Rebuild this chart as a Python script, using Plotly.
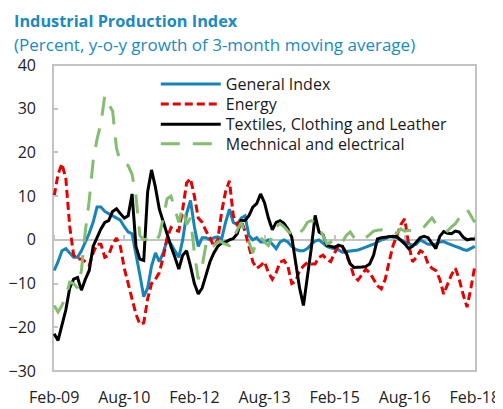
import plotly.graph_objects as go

# Monthly categories Feb-09 .. Feb-18
month_names = ["Jan", "Feb", "Mar", "Apr", "May", "Jun", "Jul", "Aug", "Sep", "Oct", "Nov", "Dec"]
months = []
for yr in range(2009, 2019):
    for mi, mn in enumerate(month_names):
        if (yr == 2009 and mi < 1) or (yr == 2018 and mi > 1):
            continue
        months.append(f"{mn}-{yr % 100:02d}")

tick_labels = ["Feb-09", "Aug-10", "Feb-12", "Aug-13", "Feb-15", "Aug-16", "Feb-18"]

general = [
    -7, -5, -2.5, -2, -3, -4, -4, -2.5, -0.5, 1.5,
    4, 7.5, 7.5, 6.5, 6, 5.5, 5, 4.5, 3, 1.8,
    1.4, -3, -8, -13, -11, -6, -3, -5, -3, 0,
    -1, -2.5, -4, 0, 6, 9, 3, -1.5, 0.5, 0.5,
    0, 0.5, 0.7, 0.2, 4, 7, 4, 3.5, 5, 5.5,
    1, 0, 0.5, -0.5, -0.5, 0, -1, -2, -0.5, 0,
    -0.5, -1.5, -2.2, -2.5, -2.5, -2, -1, -0.3, 0, -0.8,
    -1.5, -1.8, -2, -2.3, -2.8, -2.7, -2.5, -2.5, -2.3, -2,
    -1.7, -1.3, -1, -0.5, 0, 0.3, 0.8, 0.6, 0.5, 0,
    -0.5, -0.9, -1.2, -1, 0, -0.5, -1, -1, -1, -0.5,
    -0.4, -0.8, -1.2, -1.5, -1.8, -2.2, -2.4, -2, -1.5,
]

energy = [
    10, 15, 17.4, 14, 3, -3.5, -4.4, -4.4, -5, -5.8,
    -3, -1, -1, -4, -3.5, -1, 0.4, -1.5, -6.5, -10,
    -14, -17, -19.3, -19, -13.5, -10, -9, -7.5, -4, 0.5,
    2.8, 2.2, 2, 7, 13, 14, 10, 5, 4, 2,
    0.5, -1.5, 0, 6.4, 11, 13.5, 5.5, 3.5, 4.5, 2,
    -1.5, -5, -6.5, -5.9, -5, -7.5, -9, -7.5, -5.1, -4.7,
    -6, -10, -9.5, -7, -6, -5.2, -5.5, -5.5, -4, -3.5,
    -4.5, -5, -3, -1.3, -1.5, -3.5, -5.5, -8.5, -9.2, -8,
    -6.7, -7.5, -9, -10.5, -11.2, -9, -5, -1.3, 1, 3.5,
    4.8, -1, -5, -4, -2.5, -3, -5.5, -6.5, -7, -9,
    -12.4, -10, -8, -6.5, -9, -12.5, -15.4, -11, -6,
]

textiles = [
    -21.5, -23, -19.5, -16, -11, -9, -8.6, -11.5, -9, -7,
    -1.5, 0.5, 2.5, 4, 4.4, 6.5, 7.1, 6, 5, 5.5,
    10.5, -1.5, -4.4, -4.7, 11, 16, 12, 7, 4, 1,
    -1.5, -4, -6.7, -3.5, -2.5, -6, -10, -12.4, -11, -8,
    -5, -3, -1.5, -0.7, -0.5, 0, 0.3, 1.4, 4.4, 4.4,
    5.5, 7.5, 8.3, 10.5, 8.5, 5, 2.3, 4, 4.4, 3.8,
    2.5, 0.6, -5, -11, -15, -9, -2, 5.6, 1.8, 1.2,
    -1.3, -1.5, -1.7, -1.2, -1.5, -3, -5.5, -6.3, -6.3, -6.2,
    -6.1, -5.5, -3.5, 0.2, 0.5, 0.6, 0.8, 0.8, 0.7, 0,
    -0.9, -2, -1.5, -0.5, 0.5, 0.8, 0.5, -0.8, -2, 0.8,
    1.9, 1.5, 1.4, 2, 1.8, 0.6, 0, 0.2, 0.2,
]

mechanical = [
    -15, -16.5, -15, -13, -9.7, -10, -11, -7, 2, 9,
    18, 23, 26.6, 33, 31, 29.5, 21, 17.8, 17.5, 17,
    15, 10, 1, 0, 0.3, 0, -0.5, 1, 5, 9.4,
    10, 7, 4, 7.5, 3.5, 5, -3, -9, -6, -1,
    0, -1.3, -0.5, -0.5, -1, -1.3, 0.5, 2, 4, 1.5,
    -0.5, -3, 0, 0.6, -0.5, -1.3, 1, 3, 3.7, 3,
    2, 1.2, 0.6, 1.5, 2.5, 4, 4.4, 4, 3, 1,
    -0.9, -0.5, -1.3, -1, -0.5, 1, 1.8, 0.5, 0, 0,
    0.5, 1.2, 2, 2.2, 2.3, 2, 2.2, 1.8, 1.5, 2.5,
    2, 2.2, 2, 2.3, 2.6, 3, 4, 5, 3.7, 3.3,
    2.5, 2, 3, 3.7, 5, 6, 7, 5.5, 4,
]

series = [
    ("General Index", general, "#1784b9", "solid"),
    ("Energy", energy, "#e60000", "8px,4px"),
    ("Textiles, Clothing and Leather", textiles, "#000000", "solid"),
    ("Mechnical and electrical", mechanical, "#83bd6f", "19px,13px"),
]

FONT = "Open Sans"
TITLE_COLOR = "#1a8ac2"
GREY = "#c3c3c3"

legend_names = ["legend", "legend2", "legend3", "legend4"]
legend_y = [0.993, 0.928, 0.862, 0.798]

fig = go.Figure()
for (name, vals, color, dash), lg in zip(series, legend_names):
    fig.add_trace(go.Scatter(
        x=months, y=vals, name=name, mode="lines", legend=lg,
        line=dict(color=color, width=3, dash=dash),
    ))

legend_layout = {}
for lg, ly in zip(legend_names, legend_y):
    legend_layout[lg] = dict(
        x=0.243, y=ly, xanchor="left", yanchor="top",
        bgcolor="rgba(0,0,0,0)", borderwidth=0,
        font=dict(family=FONT, size=16, color="#1a1a1a"),
        itemwidth=60,
    )

# the page places the figure 8px from the top-left corner
fig.update_layout(
    template="none",
    width=495, height=401,
    margin=dict(l=45, r=27, t=57, b=38, autoexpand=False),
    paper_bgcolor="white", plot_bgcolor="white",
    font=dict(family=FONT, size=16, color="#222222"),
    showlegend=True,
    xaxis=dict(
        type="category", range=[-0.3, 108.3],
        anchor="free", position=3 / 7, automargin=False,
        showline=True, linecolor=GREY, linewidth=2,
        ticks="inside", ticklen=4, tickwidth=1.5, tickcolor=GREY,
        tickmode="array", tickvals=tick_labels, ticktext=tick_labels,
        ticklabelstandoff=143,
        tickfont=dict(family=FONT, size=16, color="#222222"),
        showgrid=False, zeroline=False, layer="below traces",
    ),
    yaxis=dict(
        range=[-30, 40], dtick=10, tick0=0, automargin=False,
        showline=False, ticks="inside", ticklen=5, tickwidth=1.5, tickcolor=GREY,
        ticklabelstandoff=16,
        tickfont=dict(family=FONT, size=16, color="#222222"),
        showgrid=False, zeroline=False,
    ),
    shapes=[dict(
        type="rect", xref="paper", yref="paper", x0=0, x1=1, y0=0, y1=1,
        line=dict(color=GREY, width=2), layer="below",
    )],
    annotations=[
        dict(text="<b>Industrial Production Index</b>", xref="paper", yref="paper",
             x=-0.097, y=1.1438, xanchor="left", yanchor="middle", showarrow=False,
             font=dict(family=FONT, size=16.3, color=TITLE_COLOR)),
        dict(text="(Percent, y-o-y growth of 3-month moving average)", xref="paper", yref="paper",
             x=-0.097, y=1.0654, xanchor="left", yanchor="middle", showarrow=False,
             font=dict(family=FONT, size=17, color=TITLE_COLOR)),
    ],
)
fig.update_layout(**legend_layout)

fig.write_html("out.html")
